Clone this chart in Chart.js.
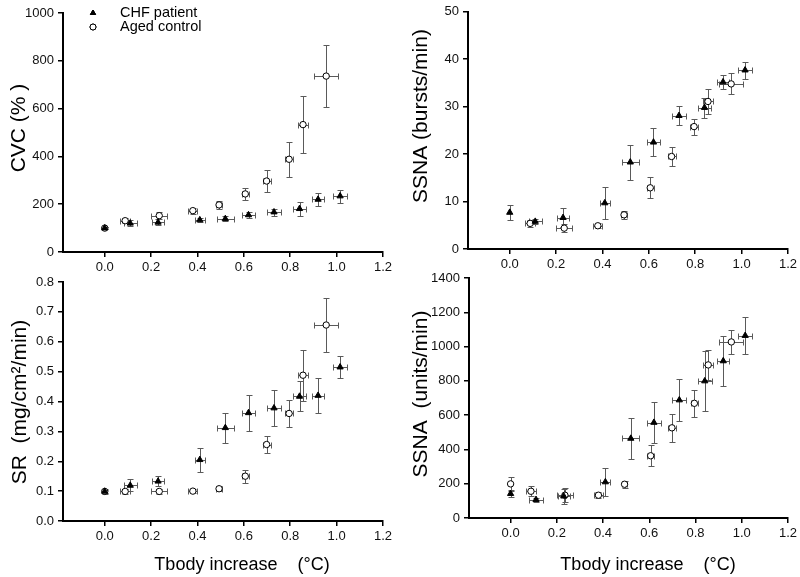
<!DOCTYPE html>
<html>
<head>
<meta charset="utf-8">
<script src="https://cdn.jsdelivr.net/npm/chart.js@4.4.1/dist/chart.umd.min.js"></script>
<style>
body { margin: 0; background: #fff; }
#wrap { position: relative; width: 800px; height: 577px; }
#wrap canvas { position: absolute; left: 0; top: 0; }
</style>
</head>
<body>
<div id="wrap">
  <canvas id="cvc" width="800" height="577"></canvas>
  <canvas id="ssnaB" width="800" height="577"></canvas>
  <canvas id="sr" width="800" height="577"></canvas>
  <canvas id="ssnaU" width="800" height="577"></canvas>
</div>
<script>
// Tbody increase (°C), shared by all panels
const chfX = [0, 0.11, 0.23, 0.41, 0.52, 0.62, 0.73, 0.84, 0.92, 1.015];
const chfXErr = [0, 0.029, 0.027, 0.022, 0.036, 0.029, 0.031, 0.03, 0.027, 0.03];
const agedX = [0, 0.088, 0.235, 0.38, 0.493, 0.606, 0.698, 0.795, 0.855, 0.955];
const agedXErr = [0, 0.022, 0.034, 0.02, 0.012, 0.016, 0.017, 0.016, 0.021, 0.052];
const xTicks = [0, 0.2, 0.4, 0.6, 0.8, 1.0, 1.2];

// CVC (%)
const cvcChf = [100, 120, 124, 134, 139, 155, 167, 181, 220, 234];
const cvcChfErr = [5, 12, 12, 10, 10, 12, 15, 30, 26, 27];
const cvcAged = [100, 131, 152, 173, 197, 243, 297, 388, 533, 736];
const cvcAgedErr = [5, 10, 15, 12, 18, 25, 45, 73, 118, 130];

// SSNA (bursts/min)
const burstChf = [7.7, 5.8, 6.6, 9.7, 18.3, 22.5, 28.1, 29.8, 35.2, 37.7];
const burstChfErr = [1.5, 0.6, 2.0, 3.3, 3.7, 3.0, 2.0, 2.1, 1.4, 1.8];
const burstAged = [null, 5.4, 4.4, 4.9, 7.2, 12.9, 19.5, 25.8, 31.1, 34.8];
const burstAgedErr = [0, 0.8, 0.8, 0.5, 0.9, 2.2, 2.1, 1.7, 2.6, 2.2];

// SR (mg/cm2/min)
const srChf = [0.099, 0.119, 0.133, 0.205, 0.312, 0.362, 0.378, 0.417, 0.42, 0.515];
const srChfErr = [0.008, 0.02, 0.016, 0.04, 0.05, 0.06, 0.06, 0.05, 0.06, 0.038];
const srAged = [0.099, 0.099, 0.099, 0.1, 0.108, 0.15, 0.256, 0.36, 0.488, 0.656];
const srAgedErr = [0.005, 0.008, 0.008, 0.006, 0.008, 0.022, 0.03, 0.045, 0.085, 0.09];

// SSNA (units/min)
const unitChf = [142, 107, 127, 210, 464, 557, 688, 799, 916, 1064];
const unitChfErr = [20, 12, 45, 80, 118, 120, 122, 175, 148, 110];
const unitAged = [199, 156, 133, 133, 197, 363, 526, 669, 893, 1027];
const unitAgedErr = [42, 30, 40, 18, 20, 60, 83, 78, 88, 68];

const FONT = 'Arial, "Liberation Sans", sans-serif';
Chart.defaults.font.family = FONT;
Chart.defaults.color = '#111';

// error bars drawn under the markers
const errorBars = {
  id: 'errorBars',
  beforeDatasetsDraw(chart) {
    const ctx = chart.ctx;
    const xs = chart.scales.x, ys = chart.scales.y;
    ctx.save();
    ctx.strokeStyle = '#5a5a5a';
    ctx.lineWidth = 1;
    chart.data.datasets.forEach(ds => {
      ds.data.forEach((p, i) => {
        if (p.y == null) return;
        const px = Math.round(xs.getPixelForValue(p.x)) + 0.5;
        const py = Math.round(ys.getPixelForValue(p.y)) + 0.5;
        const x1 = Math.round(xs.getPixelForValue(p.x - ds.xErr[i])) + 0.5;
        const x2 = Math.round(xs.getPixelForValue(p.x + ds.xErr[i])) + 0.5;
        const y1 = Math.round(ys.getPixelForValue(p.y - ds.yErr[i])) + 0.5;
        const y2 = Math.round(ys.getPixelForValue(p.y + ds.yErr[i])) + 0.5;
        ctx.beginPath();
        if (ds.xErr[i] > 0) {
          ctx.moveTo(x1, py); ctx.lineTo(x2, py);
          ctx.moveTo(x1, py - 3); ctx.lineTo(x1, py + 3);
          ctx.moveTo(x2, py - 3); ctx.lineTo(x2, py + 3);
        }
        if (ds.yErr[i] > 0) {
          ctx.moveTo(px, y1); ctx.lineTo(px, y2);
          ctx.moveTo(px - 3, y1); ctx.lineTo(px + 3, y1);
          ctx.moveTo(px - 3, y2); ctx.lineTo(px + 3, y2);
        }
        ctx.stroke();
      });
    });
    ctx.restore();
  }
};

// axis titles and legend
const axisText = {
  id: 'axisText',
  afterDraw(chart, args, opts) {
    const ctx = chart.ctx;
    ctx.save();
    ctx.fillStyle = '#000';
    ctx.textAlign = 'center';
    ctx.textBaseline = 'middle';
    if (opts.yTitle) {
      ctx.save();
      ctx.font = '21px ' + FONT;
      ctx.translate(opts.yPos[0], opts.yPos[1]);
      ctx.rotate(-Math.PI / 2);
      ctx.fillText(opts.yTitle, 0, 0);
      ctx.restore();
    }
    if (opts.xTitle) {
      ctx.font = '18px ' + FONT;
      ctx.fillText(opts.xTitle, opts.xPos[0], opts.xPos[1]);
    }
    if (opts.legend) {
      ctx.textAlign = 'left';
      ctx.font = '14.5px ' + FONT;
      opts.legend.forEach((item, i) => {
        const y = opts.legendPos[1] + i * 14;
        const ds = chart.data.datasets[i];
        Chart.helpers.drawPoint(ctx, {
          pointStyle: ds.pointStyle, radius: 3, rotation: 0, borderWidth: 1
        }, opts.legendPos[0], y);
        ctx.fillStyle = ds.backgroundColor;
        ctx.strokeStyle = '#000';
        ctx.lineWidth = 1;
        ctx.fill();
        ctx.stroke();
        ctx.fillStyle = '#000';
        ctx.fillText(item, opts.legendPos[0] + 27, y);
      });
    }
    ctx.restore();
  }
};

function points(xs, ys) {
  return xs.map((x, i) => ({ x: x, y: ys[i] }));
}

function makeChart(id, area, yMax, yStep, yDigits, chfY, chfErr, agedY, agedErr, text) {
  const axisW = 40, axisH = 30;
  new Chart(document.getElementById(id), {
    type: 'scatter',
    data: {
      datasets: [{
        label: 'CHF patient',
        data: points(chfX, chfY),
        xErr: chfXErr,
        yErr: chfErr,
        pointStyle: 'triangle',
        pointRadius: 3.6,
        backgroundColor: '#000',
        borderColor: '#000',
        borderWidth: 1
      }, {
        label: 'Aged control',
        data: points(agedX, agedY),
        xErr: agedXErr,
        yErr: agedErr,
        pointStyle: 'circle',
        pointRadius: 3.2,
        backgroundColor: '#fff',
        borderColor: '#000',
        borderWidth: 1
      }]
    },
    options: {
      responsive: false,
      animation: false,
      devicePixelRatio: 1,
      layout: {
        padding: {
          left: area[0] - axisW,
          right: 800 - area[1],
          top: area[2],
          bottom: 577 - area[3] - axisH
        }
      },
      plugins: {
        legend: { display: false },
        tooltip: { enabled: false },
        axisText: text
      },
      scales: {
        x: {
          type: 'linear',
          min: -0.18,
          max: 1.2,
          afterBuildTicks: axis => { axis.ticks = xTicks.map(v => ({ value: v })); },
          afterFit: axis => { axis.height = axisH; },
          ticks: {
            autoSkip: false,
            maxRotation: 0,
            padding: 3,
            font: { size: 13 },
            color: '#111',
            callback: v => v.toFixed(1)
          },
          grid: { drawOnChartArea: false, tickLength: 5, color: '#000', lineWidth: 1.5 },
          border: { color: '#000', width: 2 }
        },
        y: {
          min: 0,
          max: yMax,
          afterFit: axis => { axis.width = axisW; },
          ticks: {
            stepSize: yStep,
            padding: 4,
            font: { size: 13 },
            color: '#111',
            callback: v => v.toFixed(yDigits)
          },
          grid: { drawOnChartArea: false, tickLength: 5, color: '#000', lineWidth: 1.5 },
          border: { color: '#000', width: 2 }
        }
      }
    },
    plugins: [errorBars, axisText]
  });
}

makeChart('cvc', [63, 383, 13, 252], 1000, 200, 0,
  cvcChf, cvcChfErr, cvcAged, cvcAgedErr,
  { yTitle: 'CVC (% )', yPos: [19, 128],
    legend: ['CHF patient', 'Aged control'], legendPos: [93, 13] });

makeChart('ssnaB', [468, 790, 10, 249], 50, 10, 0,
  burstChf, burstChfErr, burstAged, burstAgedErr,
  { yTitle: 'SSNA (bursts/min)', yPos: [421, 116] });

makeChart('sr', [63, 383, 282, 521], 0.8, 0.1, 1,
  srChf, srChfErr, srAged, srAgedErr,
  { yTitle: 'SR  (mg/cm²/min)', yPos: [20, 402],
    xTitle: 'Tbody increase    (°C)', xPos: [242, 565] });

makeChart('ssnaU', [469, 790, 278, 518], 1400, 200, 0,
  unitChf, unitChfErr, unitAged, unitAgedErr,
  { yTitle: 'SSNA  (units/min)', yPos: [421, 394],
    xTitle: 'Tbody increase    (°C)', xPos: [648, 565] });
</script>
</body>
</html>
